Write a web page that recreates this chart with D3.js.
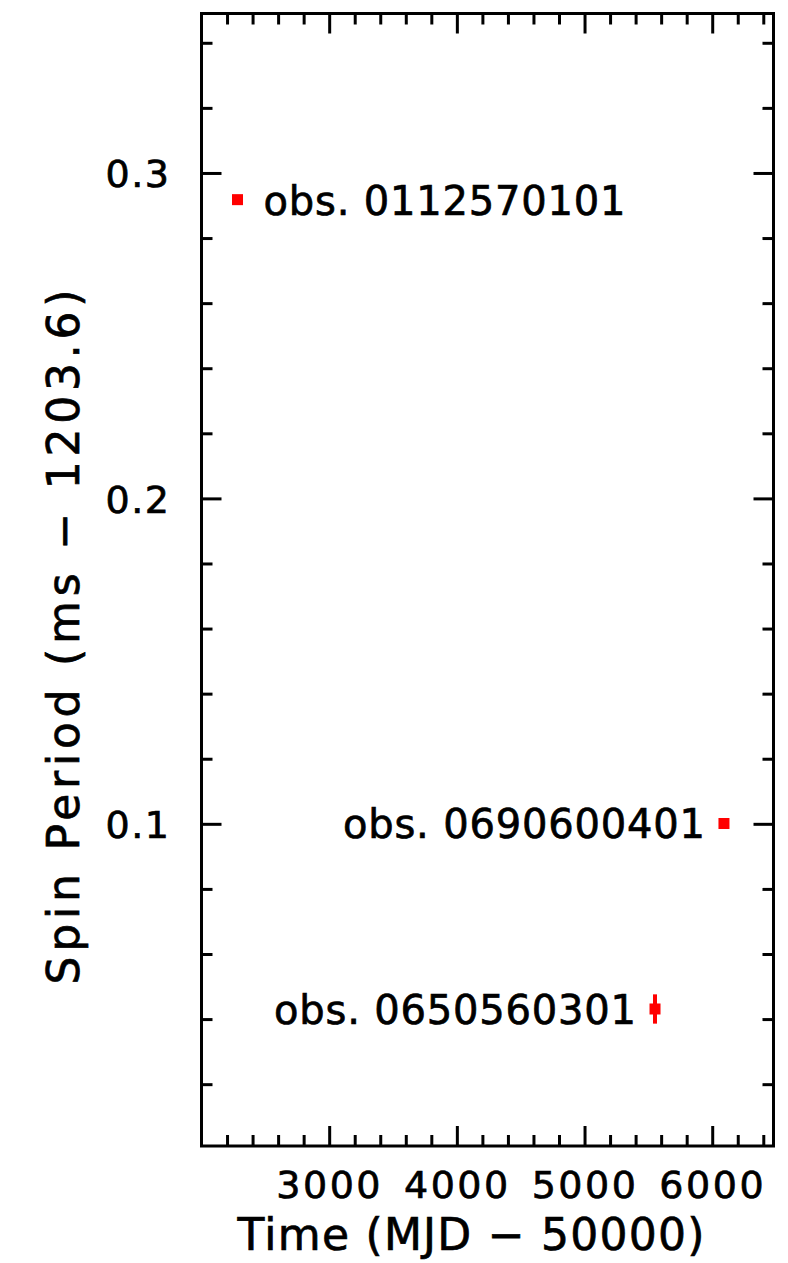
<!DOCTYPE html>
<html>
<head>
<meta charset="utf-8">
<script src="https://cdn.jsdelivr.net/npm/d3@7"></script>
<style>
  html, body { margin: 0; padding: 0; background: #fff; }
  svg { display: block; }
  text { font-family: "DejaVu Sans", "Liberation Sans", sans-serif; fill: #000; stroke: #000; stroke-width: 0.7px; }
</style>
</head>
<body>
<svg id="chart" width="788" height="1263"></svg>
<script>
// Spin period measurements per XMM-Newton observation
const obsIds    = ["0112570101", "0690600401", "0650560301"];
const mjd       = [2282, 6092, 5552];          // MJD - 50000
const period    = [0.2918, 0.1001, 0.0431];    // ms - 1203.6
const periodErr = [0.0008, 0.0008, 0.0045];
const labelSide = ["right", "left", "left"];

// Axis ranges and tick values
const xDomain = [2000, 6480];
const yDomain = [0.001, 0.349];
const xMajorTicks = [3000, 4000, 5000, 6000];
const xMinorStep = 200;
const yMajorTicks = [0.1, 0.2, 0.3];
const yMinorStep = 0.02;

const xTitle = "Time (MJD \u2212 50000)";
const yTitle = "Spin Period (ms \u2212 1203.6)";

const frame = { left: 201.5, right: 773.5, top: 13.5, bottom: 1146 };
const svg = d3.select("#chart");

const x = d3.scaleLinear().domain(xDomain).range([frame.left, frame.right]);
const y = d3.scaleLinear().domain(yDomain).range([frame.bottom, frame.top]);

const majorLen = 20, minorLen = 11, lw = 3;
const fontSize = 38;

const xMinor = d3.range(xDomain[0], xDomain[1] + 1e-9, xMinorStep)
  .filter(v => v > xDomain[0] && v < xDomain[1] && !xMajorTicks.includes(v));
const yMinor = d3.range(0, yDomain[1] + 1e-9, yMinorStep)
  .map(v => +v.toFixed(4))
  .filter(v => v > yDomain[0] && v < yDomain[1] && !yMajorTicks.some(m => Math.abs(m - v) < 1e-6));

// Axes on all four sides, ticks pointing inward
function drawAxis(axisFn, scale, transform, major, minor, showLabels, fmt) {
  const gMinor = svg.append("g").attr("transform", transform)
    .call(axisFn(scale).tickValues(minor).tickSize(-minorLen).tickFormat(""));
  const gMajor = svg.append("g").attr("transform", transform)
    .call(axisFn(scale).tickValues(major).tickSize(-majorLen)
      .tickFormat(showLabels ? fmt : "").tickPadding(majorLen + 11));
  [gMinor, gMajor].forEach(g => {
    g.select(".domain").remove();
    g.selectAll(".tick line").attr("stroke", "#000").attr("stroke-width", lw);
  });
  return gMajor;
}

const gx = drawAxis(d3.axisBottom, x, `translate(0,${frame.bottom})`, xMajorTicks, xMinor, true, d3.format("d"));
gx.selectAll(".tick text")
  .attr("font-size", fontSize)
  .attr("font-family", "DejaVu Sans, sans-serif")
  .attr("letter-spacing", 2.5)
  .attr("y", null).attr("dy", null)
  .attr("transform", "translate(0,52)")
  .attr("text-anchor", "middle")
  .attr("fill", "#000");

drawAxis(d3.axisTop, x, `translate(0,${frame.top})`, xMajorTicks, xMinor, false);

const gy = drawAxis(d3.axisLeft, y, `translate(${frame.left},0)`, yMajorTicks, yMinor, true, d3.format(".1f"));
gy.selectAll(".tick text")
  .attr("font-size", fontSize)
  .attr("font-family", "DejaVu Sans, sans-serif")
  .attr("letter-spacing", 1.5)
  .attr("x", -31).attr("dy", "0.36em")
  .attr("fill", "#000");

drawAxis(d3.axisRight, y, `translate(${frame.right},0)`, yMajorTicks, yMinor, false);

// Plot frame
svg.append("rect")
  .attr("x", frame.left).attr("y", frame.top)
  .attr("width", frame.right - frame.left).attr("height", frame.bottom - frame.top)
  .attr("fill", "none").attr("stroke", "#000").attr("stroke-width", lw);

// Axis titles
svg.append("text")
  .attr("x", 471).attr("y", 1250)
  .attr("text-anchor", "middle")
  .attr("font-size", 44)
  .attr("textLength", 467).attr("lengthAdjust", "spacing")
  .text(xTitle);

svg.append("text")
  .attr("transform", "translate(79,637) rotate(-90)")
  .attr("text-anchor", "middle")
  .attr("font-size", 44)
  .attr("textLength", 695).attr("lengthAdjust", "spacing")
  .text(yTitle);

// Data points with error bars
const pts = obsIds.map((id, i) => ({ id, t: mjd[i], p: period[i], e: periodErr[i], side: labelSide[i] }));
const gPts = svg.append("g");

gPts.selectAll("line.err").data(pts).join("line")
  .attr("class", "err")
  .attr("x1", d => x(d.t)).attr("x2", d => x(d.t))
  .attr("y1", d => y(d.p - d.e)).attr("y2", d => y(d.p + d.e))
  .attr("stroke", "#f00").attr("stroke-width", 4);

const ms = 11;
gPts.selectAll("rect.pt").data(pts).join("rect")
  .attr("class", "pt")
  .attr("x", d => x(d.t) - ms / 2).attr("y", d => y(d.p) - ms / 2)
  .attr("width", ms).attr("height", ms)
  .attr("fill", "#f00");

gPts.selectAll("text.lbl").data(pts).join("text")
  .attr("class", "lbl")
  .attr("x", d => x(d.t) + (d.side === "right" ? 26 : -19))
  .attr("y", d => y(d.p) + 15)
  .attr("text-anchor", d => d.side === "right" ? "start" : "end")
  .attr("font-size", 40)
  .attr("textLength", 362).attr("lengthAdjust", "spacing")
  .text(d => "obs. " + d.id);
</script>
</body>
</html>
